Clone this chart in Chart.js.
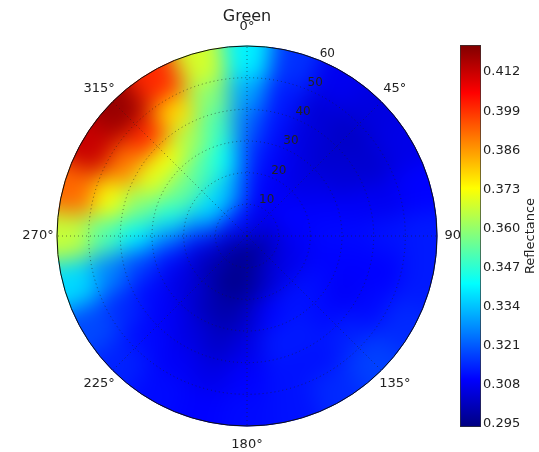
<!DOCTYPE html>
<html>
<head>
<meta charset="utf-8">
<script src="https://cdn.jsdelivr.net/npm/chart.js@4.4.1/dist/chart.umd.min.js"></script>
<style>
	html, body { margin: 0; padding: 0; background: #fff; }
	#wrap { position: relative; width: 539px; height: 452px; }
	#polarBox { position: absolute; left: 0; top: 0; width: 539px; height: 452px; }
	#barBox { position: absolute; left: 440px; top: 0; width: 99px; height: 452px; }
</style>
</head>
<body>
<div id="wrap">
	<div id="polarBox"><canvas id="polarChart"></canvas></div>
	<div id="barBox"><canvas id="colorBar"></canvas></div>
</div>
<script>
// sector centres, degrees clockwise from north
var azimuths = [0, 15, 30, 45, 60, 75, 90, 105, 120, 135, 150, 165, 180, 195, 210, 225, 240, 255, 270, 285, 300, 315, 330, 345];
// outer edge of each zenith ring
var zenithEdges = [10, 20, 30, 40, 50, 60];

// reflectance per ring, one value per azimuth sector
var refl_0_10 = [0.309, 0.308, 0.307, 0.307, 0.307, 0.306, 0.303, 0.302, 0.301, 0.300, 0.298, 0.297, 0.296, 0.296, 0.297, 0.299, 0.300, 0.302, 0.305, 0.310, 0.313, 0.314, 0.314, 0.312];
var refl_10_20 = [0.314, 0.310, 0.309, 0.309, 0.310, 0.310, 0.309, 0.308, 0.307, 0.307, 0.305, 0.301, 0.297, 0.295, 0.297, 0.300, 0.302, 0.306, 0.315, 0.328, 0.338, 0.337, 0.336, 0.330];
var refl_20_30 = [0.318, 0.311, 0.308, 0.306, 0.308, 0.310, 0.311, 0.310, 0.311, 0.312, 0.312, 0.310, 0.303, 0.299, 0.301, 0.305, 0.307, 0.312, 0.328, 0.345, 0.355, 0.355, 0.350, 0.342];
var refl_30_40 = [0.323, 0.312, 0.306, 0.304, 0.305, 0.309, 0.311, 0.310, 0.309, 0.311, 0.313, 0.313, 0.307, 0.303, 0.306, 0.309, 0.311, 0.318, 0.340, 0.357, 0.370, 0.372, 0.362, 0.350];
var refl_40_50 = [0.330, 0.313, 0.305, 0.303, 0.304, 0.308, 0.312, 0.310, 0.311, 0.314, 0.312, 0.312, 0.310, 0.307, 0.309, 0.311, 0.315, 0.326, 0.352, 0.372, 0.390, 0.400, 0.378, 0.358];
var refl_50_60 = [0.340, 0.316, 0.308, 0.306, 0.307, 0.310, 0.313, 0.313, 0.315, 0.318, 0.315, 0.312, 0.311, 0.310, 0.311, 0.314, 0.319, 0.337, 0.366, 0.392, 0.412, 0.418, 0.400, 0.368];

var cbMin = 0.294, cbMax = 0.421;
var cbTicks = [0.295, 0.308, 0.321, 0.334, 0.347, 0.360, 0.373, 0.386, 0.399, 0.412];
var angleTicks = [0, 45, 90, 135, 180, 225, 270, 315];
var radialTicks = [10, 20, 30, 40, 50, 60];

var FONT = 'DejaVu Sans';
Chart.defaults.font.family = FONT;

// matplotlib jet colormap
function jet(v) {
	var t = (v - cbMin) / (cbMax - cbMin);
	var c = function (x) { return Math.round(255 * Math.max(0, Math.min(1, x))); };
	var r = c(Math.min(4 * t - 1.5, -4 * t + 4.5));
	var g = c(Math.min(4 * t - 0.5, -4 * t + 3.5));
	var b = c(Math.min(4 * t + 0.5, -4 * t + 2.5));
	return 'rgb(' + r + ',' + g + ',' + b + ')';
}

var rings = [refl_0_10, refl_10_20, refl_20_30, refl_30_40, refl_40_50, refl_50_60];
// inner ring first: dataset 0 is painted last, on top
var datasets = rings.map(function (vals, i) {
	return {
		data: azimuths.map(function () { return zenithEdges[i]; }),
		backgroundColor: vals.map(jet),
		borderColor: vals.map(jet),
		borderWidth: 1
	};
});

function polarPoint(scale, deg, value) {
	var idx = (deg - scale.options.startAngle) / (360 / azimuths.length);
	return scale.getPointPositionForValue(idx, value);
}

// sliding box blur, horizontal then vertical
function boxBlur(src, tmp, w, h, rad) {
	var x, y, acc, norm = 1 / (2 * rad + 1);
	for (y = 0; y < h; y++) {
		var row = y * w;
		acc = 0;
		for (x = -rad; x <= rad; x++) acc += src[row + Math.min(w - 1, Math.max(0, x))];
		for (x = 0; x < w; x++) {
			tmp[row + x] = acc * norm;
			acc += src[row + Math.min(w - 1, x + rad + 1)] - src[row + Math.max(0, x - rad)];
		}
	}
	for (x = 0; x < w; x++) {
		acc = 0;
		for (y = -rad; y <= rad; y++) acc += tmp[Math.min(h - 1, Math.max(0, y)) * w + x];
		for (y = 0; y < h; y++) {
			src[y * w + x] = acc * norm;
			acc += tmp[Math.min(h - 1, y + rad + 1) * w + x] - tmp[Math.max(0, y - rad) * w + x];
		}
	}
}

// soften the cells inside the disc, like a shaded mesh
function smoothDisk(chart) {
	var ctx = chart.ctx, r = chart.scales.r;
	var dpr = chart.currentDevicePixelRatio || 1;
	var cx = r.xCenter * dpr, cy = r.yCenter * dpr, R = r.drawingArea * dpr;
	var x0 = Math.floor(cx - R) - 1, y0 = Math.floor(cy - R) - 1;
	var w = Math.ceil(2 * R) + 3, h = w;
	var img = ctx.getImageData(x0, y0, w, h), d = img.data, n = w * h;
	var ch = [new Float32Array(n), new Float32Array(n), new Float32Array(n), new Float32Array(n)];
	var tmp = new Float32Array(n);
	var inner = (R - 1.5) * (R - 1.5);
	var i, dx, dy;
	for (i = 0; i < n; i++) {
		dx = (i % w) + 0.5 + x0 - cx;
		dy = Math.floor(i / w) + 0.5 + y0 - cy;
		var m = (dx * dx + dy * dy <= inner) ? 1 : 0;
		ch[0][i] = d[4 * i] * m;
		ch[1][i] = d[4 * i + 1] * m;
		ch[2][i] = d[4 * i + 2] * m;
		ch[3][i] = m;
	}
	for (var k = 0; k < 4; k++) {
		for (var p = 0; p < 3; p++) boxBlur(ch[k], tmp, w, h, Math.round(10 * dpr));
	}
	for (i = 0; i < n; i++) {
		dx = (i % w) + 0.5 + x0 - cx;
		dy = Math.floor(i / w) + 0.5 + y0 - cy;
		if (dx * dx + dy * dy <= R * R && ch[3][i] > 1e-4) {
			d[4 * i] = ch[0][i] / ch[3][i];
			d[4 * i + 1] = ch[1][i] / ch[3][i];
			d[4 * i + 2] = ch[2][i] / ch[3][i];
			d[4 * i + 3] = 255;
		}
	}
	ctx.putImageData(img, x0, y0);
}

var polarDecor = {
	id: 'polarDecor',
	afterDatasetsDraw: function (chart) {
		var ctx = chart.ctx, r = chart.scales.r;
		var cx = r.xCenter, cy = r.yCenter, R = r.drawingArea;

		smoothDisk(chart);

		// dotted grid
		ctx.save();
		ctx.strokeStyle = 'rgba(30,30,30,0.55)';
		ctx.lineWidth = 1;
		ctx.setLineDash([1, 3]);
		radialTicks.slice(0, -1).forEach(function (v) {
			ctx.beginPath();
			ctx.arc(cx, cy, r.getDistanceFromCenterForValue(v), 0, 2 * Math.PI);
			ctx.stroke();
		});
		angleTicks.forEach(function (a) {
			var p = polarPoint(r, a, r.max);
			ctx.beginPath();
			ctx.moveTo(cx, cy);
			ctx.lineTo(p.x, p.y);
			ctx.stroke();
		});
		ctx.setLineDash([]);
		ctx.strokeStyle = '#111';
		ctx.beginPath();
		ctx.arc(cx, cy, R, 0, 2 * Math.PI);
		ctx.stroke();

		// angle labels
		ctx.fillStyle = '#222';
		ctx.font = '13px ' + FONT;
		ctx.textAlign = 'center';
		ctx.textBaseline = 'middle';
		angleTicks.forEach(function (a) {
			var p = polarPoint(r, a, r.max * 1.1);
			ctx.fillText(a + '\u00b0', p.x, p.y);
		});

		// radial labels along 22.5 deg
		ctx.font = '12px ' + FONT;
		ctx.textAlign = 'left';
		ctx.textBaseline = 'bottom';
		radialTicks.forEach(function (v) {
			var p = polarPoint(r, 22.5, v);
			ctx.fillText(String(v), p.x, p.y - 1);
		});
		ctx.restore();
	}
};

new Chart(document.getElementById('polarChart'), {
	type: 'polarArea',
	data: {
		labels: azimuths.map(function (a) { return a + '\u00b0'; }),
		datasets: datasets
	},
	options: {
		responsive: true,
		maintainAspectRatio: false,
		animation: false,
		layout: { padding: { left: 57, right: 102, top: 0, bottom: 26 } },
		plugins: {
			legend: { display: false },
			tooltip: { enabled: false },
			title: {
				display: true,
				text: 'Green',
				color: '#222',
				font: { size: 16, weight: 'normal' },
				padding: { top: 7, bottom: 19.8 }
			}
		},
		scales: {
			r: {
				min: 0,
				max: 60,
				startAngle: -7.5,
				ticks: { display: false, stepSize: 10 },
				grid: { display: false },
				angleLines: { display: false },
				pointLabels: { display: false }
			}
		}
	},
	plugins: [polarDecor]
});

var cbTitle = {
	id: 'cbTitle',
	afterDraw: function (chart) {
		var ctx = chart.ctx, a = chart.chartArea;
		ctx.save();
		ctx.translate(91, (a.top + a.bottom) / 2);
		ctx.rotate(-Math.PI / 2);
		ctx.fillStyle = '#222';
		ctx.font = '13px ' + FONT;
		ctx.textAlign = 'center';
		ctx.textBaseline = 'middle';
		ctx.fillText('Reflectance', 0, 0);
		ctx.restore();
	}
};

new Chart(document.getElementById('colorBar'), {
	type: 'bar',
	data: {
		labels: ['Reflectance'],
		datasets: [{
			data: [[cbMin, cbMax]],
			backgroundColor: function (c) {
				var area = c.chart.chartArea;
				if (!area) return 'blue';
				var g = c.chart.ctx.createLinearGradient(0, area.bottom, 0, area.top);
				for (var i = 0; i <= 40; i++) {
					g.addColorStop(i / 40, jet(cbMin + (cbMax - cbMin) * i / 40));
				}
				return g;
			},
			borderColor: '#333',
			borderWidth: 1,
			borderSkipped: false,
			barPercentage: 1,
			categoryPercentage: 1
		}]
	},
	options: {
		responsive: true,
		maintainAspectRatio: false,
		animation: false,
		layout: { padding: { left: 20, right: 8, top: 45, bottom: 25 } },
		plugins: { legend: { display: false }, tooltip: { enabled: false } },
		scales: {
			x: { display: false },
			y: {
				position: 'right',
				min: cbMin,
				max: cbMax,
				afterBuildTicks: function (s) {
					s.ticks = cbTicks.map(function (v) { return { value: v }; });
				},
				afterFit: function (s) { s.width = 50; },
				ticks: {
					color: '#222',
					font: { size: 13 },
					padding: 2,
					callback: function (v) { return v.toFixed(3); }
				},
				grid: { drawOnChartArea: false, drawTicks: false },
				border: { display: false }
			}
		}
	},
	plugins: [cbTitle]
});
</script>
</body>
</html>
